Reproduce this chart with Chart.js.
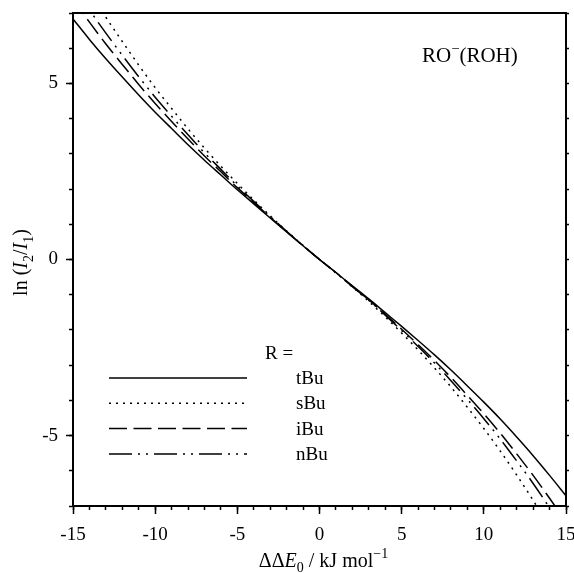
<!DOCTYPE html>
<html>
<head>
<meta charset="utf-8">
<script src="https://cdn.jsdelivr.net/npm/chart.js@4.4.1/dist/chart.umd.min.js"></script>
<style>
  html, body { margin: 0; padding: 0; background: #fff; }
  #energyChart { display: block; }
</style>
</head>
<body>
<canvas id="energyChart" width="574" height="573" style="width:574px;height:573px"></canvas>
<script>
// ΔΔE0 in kJ/mol
const dE = [-15, -14, -13, -12, -11, -10, -9, -8, -7, -6, -5, -4, -3, -2, -1, 0,
            1, 2, 3, 4, 5, 6, 7, 8, 9, 10, 11, 12, 13, 14, 15];

// ln(I2/I1) for each alkoxide
const tBu = [6.83, 6.25, 5.70, 5.18, 4.67, 4.18, 3.72, 3.26, 2.82, 2.40, 1.98, 1.58, 1.18, 0.78, 0.39, 0,
             -0.37, -0.75, -1.12, -1.51, -1.90, -2.30, -2.71, -3.14, -3.59, -4.05, -4.53, -5.04, -5.57, -6.13, -6.71];
const sBu = [8.41, 7.62, 6.88, 6.19, 5.52, 4.88, 4.29, 3.71, 3.16, 2.65, 2.16, 1.69, 1.24, 0.81, 0.40, 0,
             -0.38, -0.78, -1.19, -1.63, -2.09, -2.57, -3.08, -3.62, -4.20, -4.80, -5.44, -6.12, -6.84, -7.60, -8.40];
const iBu = [7.39, 6.74, 6.12, 5.54, 4.97, 4.43, 3.92, 3.42, 2.94, 2.49, 2.04, 1.62, 1.20, 0.79, 0.39, 0,
             -0.37, -0.76, -1.15, -1.56, -1.98, -2.42, -2.87, -3.35, -3.86, -4.38, -4.93, -5.52, -6.13, -6.78, -7.45];
const nBu = [7.80, 7.09, 6.43, 5.80, 5.19, 4.61, 4.07, 3.54, 3.03, 2.56, 2.09, 1.65, 1.22, 0.80, 0.39, 0,
             -0.38, -0.77, -1.16, -1.58, -2.02, -2.47, -2.94, -3.44, -3.97, -4.52, -5.10, -5.72, -6.36, -7.05, -7.77];

const seriesLabels = ['tBu', 'sBu', 'iBu', 'nBu'];

const xMajorTicks = [-15, -10, -5, 0, 5, 10, 15];
const yMajorTicks = [-5, 0, 5];
const yMinorTicks = [-7, -6, -5, -4, -3, -2, -1, 0, 1, 2, 3, 4, 5, 6, 7];

const serif = '"Liberation Serif", "Times New Roman", serif';

// line styles: solid, dotted, dashed, dash-dot-dot
const dashes = [[], [2, 5], [18, 6.5], [23, 6, 2, 6, 2, 6]];

const seriesValues = [tBu, sBu, iBu, nBu];
const datasets = seriesLabels.map((name, i) => ({
    label: name,
    data: dE.map((x, k) => ({ x: x, y: seriesValues[i][k] })),
    borderColor: '#000',
    borderWidth: 1.5,
    borderDash: dashes[i],
    pointRadius: 0,
    fill: false,
    cubicInterpolationMode: 'monotone',
    clip: 0,
    xAxisID: 'x',
    yAxisID: 'y'
}));

// mixed italic / subscript / superscript text
function partFont(p, size) {
    const s = (p.sub || p.sup) ? size * 0.7 : size;
    return (p.it ? 'italic ' : '') + s + 'px ' + serif;
}
function richWidth(ctx, parts, size) {
    let w = 0;
    parts.forEach(p => { ctx.font = partFont(p, size); w += ctx.measureText(p.t).width; });
    return w;
}
function drawRich(ctx, parts, x, y, size, align, supRise, subDrop) {
    let cx = align === 'center' ? x - richWidth(ctx, parts, size) / 2 : x;
    ctx.textAlign = 'left';
    ctx.textBaseline = 'alphabetic';
    parts.forEach(p => {
        ctx.font = partFont(p, size);
        let dy = 0;
        if (p.sub) dy = size * subDrop;
        if (p.sup) dy = -size * supRise;
        ctx.fillText(p.t, cx, y + dy);
        cx += ctx.measureText(p.t).width;
    });
}

const xTitle = [{ t: 'ΔΔ' }, { t: 'E', it: true }, { t: '0', sub: true }, { t: ' / kJ mol' }, { t: '−1', sup: true }];
const yTitle = [{ t: 'ln (' }, { t: 'I', it: true }, { t: '2', sub: true }, { t: '/' },
                { t: 'I', it: true }, { t: '1', sub: true }, { t: ')' }];
const tag = [{ t: 'RO' }, { t: '−', sup: true }, { t: '(ROH)' }];

const textPlugin = {
    id: 'textPlugin',
    afterDraw(chart) {
        const ctx = chart.ctx;
        const a = chart.chartArea;
        ctx.save();
        ctx.fillStyle = '#000';

        drawRich(ctx, xTitle, (a.left + a.right) / 2 + 4, chart.height - 6, 20, 'center', 0.45, 0.25);

        ctx.save();
        ctx.translate(27, (a.top + a.bottom) / 2 + 3);
        ctx.rotate(-Math.PI / 2);
        drawRich(ctx, yTitle, 0, 0, 20, 'center', 0.4, 0.3);
        ctx.restore();

        drawRich(ctx, tag, a.left + 349, a.top + 49, 21, 'left', 0.42, 0.3);

        // key
        const x0 = a.left + 36, x1 = x0 + 138, y0 = 378, step = 25.3;
        ctx.font = '19px ' + serif;
        ctx.textBaseline = 'middle';
        ctx.textAlign = 'left';
        ctx.fillText('R =', x0 + 156, y0 - 24);
        chart.data.datasets.forEach((ds, i) => {
            const y = y0 + i * step;
            ctx.save();
            ctx.strokeStyle = ds.borderColor;
            ctx.lineWidth = ds.borderWidth;
            ctx.setLineDash(ds.borderDash);
            ctx.beginPath();
            ctx.moveTo(x0, y);
            ctx.lineTo(x1, y);
            ctx.stroke();
            ctx.restore();
            ctx.fillText(ds.label, x1 + 49, y + 1);
        });
        ctx.restore();
    }
};

const tickFont = { family: serif, size: 19 };
const noPad = s => { s.paddingLeft = 0; s.paddingRight = 0; s.paddingTop = 0; s.paddingBottom = 0; };

new Chart(document.getElementById('energyChart').getContext('2d'), {
    type: 'line',
    data: { datasets: datasets },
    options: {
        responsive: false,
        animation: false,
        devicePixelRatio: 1,
        layout: { padding: { top: 13, left: 0, right: 0, bottom: 0 } },
        plugins: { legend: { display: false }, tooltip: { enabled: false } },
        scales: {
            x: {
                type: 'linear', axis: 'x', position: 'bottom', min: -15, max: 15, weight: 1,
                afterBuildTicks: s => { s.ticks = xMajorTicks.map(v => ({ value: v })); },
                afterFit: s => { s.height = 67; noPad(s); },
                grid: { drawOnChartArea: false, tickLength: 8, tickWidth: 1.5, tickColor: '#000' },
                border: { color: '#000', width: 2 },
                ticks: { color: '#000', font: tickFont, padding: 10, maxRotation: 0, autoSkip: false,
                         callback: v => String(v) }
            },
            xMinor: {
                type: 'linear', axis: 'x', position: 'bottom', min: -15, max: 15, weight: 0,
                afterBuildTicks: s => { s.ticks = dE.map(v => ({ value: v })); },
                afterFit: s => { s.height = 0; noPad(s); },
                grid: { drawOnChartArea: false, tickLength: 4, tickWidth: 1.5, tickColor: '#000' },
                border: { color: '#000', width: 2 },
                ticks: { display: false }
            },
            xTop: {
                type: 'linear', axis: 'x', position: 'top', min: -15, max: 15,
                afterFit: s => { s.height = 0; noPad(s); },
                grid: { drawOnChartArea: false, drawTicks: false },
                border: { color: '#000', width: 2 },
                ticks: { display: false }
            },
            y: {
                type: 'linear', axis: 'y', position: 'left', min: -7, max: 7, weight: 1,
                afterBuildTicks: s => { s.ticks = yMajorTicks.map(v => ({ value: v })); },
                afterFit: s => { s.width = 73; noPad(s); },
                grid: { drawOnChartArea: false, tickLength: 7, tickWidth: 1.5, tickColor: '#000' },
                border: { color: '#000', width: 2 },
                ticks: { color: '#000', font: tickFont, padding: 8, callback: v => String(v) }
            },
            yMinor: {
                type: 'linear', axis: 'y', position: 'left', min: -7, max: 7, weight: 0,
                afterBuildTicks: s => { s.ticks = yMinorTicks.map(v => ({ value: v })); },
                afterFit: s => { s.width = 0; noPad(s); },
                grid: { drawOnChartArea: false, tickLength: 4, tickWidth: 1.5, tickColor: '#000' },
                border: { color: '#000', width: 2 },
                ticks: { display: false }
            },
            yRight: {
                type: 'linear', axis: 'y', position: 'right', min: -7, max: 7,
                afterBuildTicks: s => { s.ticks = yMinorTicks.map(v => ({ value: v })); },
                afterFit: s => { s.width = 8; noPad(s); },
                grid: { drawOnChartArea: false, tickLength: 3, tickWidth: 1.5, tickColor: '#000' },
                border: { color: '#000', width: 2 },
                ticks: { display: false }
            }
        }
    },
    plugins: [textPlugin]
});
</script>
</body>
</html>
